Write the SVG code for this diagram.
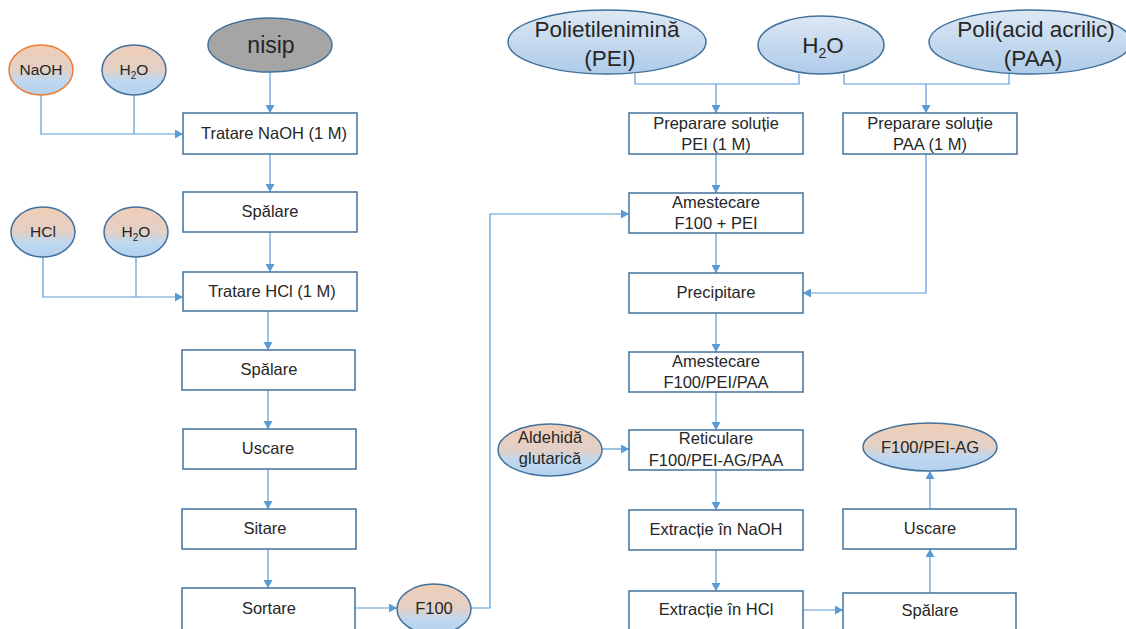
<svg xmlns="http://www.w3.org/2000/svg" width="1126" height="629" viewBox="0 0 1126 629">
<style>
text{font-family:"Liberation Sans",Arial,sans-serif;fill:#262626;text-anchor:middle}
.box{fill:#fff;stroke:#41719c;stroke-width:1.5}
.ew{fill:url(#warm);stroke:#41719c;stroke-width:1.5}
.eb{fill:url(#cool);stroke:#41719c;stroke-width:1.5}
.t{font-size:16.5px}
.s{font-size:15.5px}
.big{font-size:22.5px}
.c{fill:none;stroke:#5b9bd5;stroke-width:1.2}
.a{marker-end:url(#arr)}
</style>
<defs>
<linearGradient id="warm" x1="0" y1="0" x2="0" y2="1">
<stop offset="0" stop-color="#f0cdb6"/>
<stop offset="0.5" stop-color="#e2d0c6"/>
<stop offset="0.7" stop-color="#c0d8ef"/>
<stop offset="1" stop-color="#b3d1f0"/>
</linearGradient>
<linearGradient id="cool" x1="0" y1="0" x2="0" y2="1">
<stop offset="0" stop-color="#dde8f4"/>
<stop offset="1" stop-color="#aecbe9"/>
</linearGradient>
<marker id="arr" markerUnits="userSpaceOnUse" markerWidth="9" markerHeight="9" refX="8" refY="4.5" orient="auto">
<path d="M0,0 L8,4.5 L0,9 z" fill="#5b9bd5"/>
</marker>
</defs>

<g id="connectors">
<path class="c a" d="M270,72 V113"/>
<path class="c a" d="M41,95 V134 H183"/>
<path class="c" d="M134,95 V134"/>
<path class="c a" d="M270,154 V192"/>
<path class="c a" d="M270,232 V272"/>
<path class="c a" d="M43,257 V297 H183"/>
<path class="c" d="M136,257 V297"/>
<path class="c a" d="M268,311 V350"/>
<path class="c a" d="M268,390 V429"/>
<path class="c a" d="M268,469 V509"/>
<path class="c a" d="M268,549 V588"/>
<path class="c a" d="M355,608 H397"/>
<path class="c a" d="M471,608 H490 V214 H629"/>
<path class="c" d="M635,74 V84 H799 V74"/>
<path class="c a" d="M716,84 V113"/>
<path class="c" d="M844,74 V84 H1009 V67"/>
<path class="c a" d="M926,84 V113"/>
<path class="c a" d="M716,154 V193"/>
<path class="c a" d="M716,233 V273"/>
<path class="c a" d="M926,154 V293 H803"/>
<path class="c a" d="M716,313 V352"/>
<path class="c a" d="M716,392 V430"/>
<path class="c a" d="M602,449 H629"/>
<path class="c a" d="M716,470 V510"/>
<path class="c a" d="M716,550 V591"/>
<path class="c a" d="M803,610 H843"/>
<path class="c a" d="M930,593 V549"/>
<path class="c a" d="M930,509 V471"/>
</g>

<g id="nisip"><ellipse cx="270" cy="45" rx="62" ry="27" fill="#a5a5a5" stroke="#41719c" stroke-width="1.5"/><text x="271" y="53" style="font-size:23px">nisip</text></g>
<g id="naoh"><ellipse class="ew" cx="41" cy="70" rx="32" ry="25" style="stroke:#ed7d31"/><text class="s" x="41" y="75">NaOH</text></g>
<g id="h2o-1"><ellipse class="ew" cx="134" cy="70" rx="32" ry="25"/><text class="s" x="134" y="75">H<tspan font-size="10" dy="4">2</tspan><tspan dy="-4">O</tspan></text></g>
<g id="hcl"><ellipse class="ew" cx="43" cy="232" rx="32" ry="25"/><text class="s" x="43" y="237">HCl</text></g>
<g id="h2o-2"><ellipse class="ew" cx="136" cy="232" rx="32" ry="25"/><text class="s" x="136" y="237">H<tspan font-size="10" dy="4">2</tspan><tspan dy="-4">O</tspan></text></g>

<g id="tratare-naoh"><rect class="box" x="183" y="113" width="174" height="41"/><text class="t" x="274" y="139">Tratare NaOH (1 M)</text></g>
<g id="spalare-1"><rect class="box" x="183" y="192" width="174" height="40"/><text class="t" x="270" y="217">Spălare</text></g>
<g id="tratare-hcl"><rect class="box" x="183" y="272" width="174" height="39"/><text class="t" x="272" y="297">Tratare HCl (1 M)</text></g>
<g id="spalare-2"><rect class="box" x="182" y="350" width="173" height="40"/><text class="t" x="269" y="375">Spălare</text></g>
<g id="uscare-1"><rect class="box" x="183" y="429" width="173" height="40"/><text class="t" x="268" y="454">Uscare</text></g>
<g id="sitare"><rect class="box" x="182" y="509" width="174" height="40"/><text class="t" x="265" y="534">Sitare</text></g>
<g id="sortare"><rect class="box" x="182" y="588" width="173" height="42"/><text class="t" x="269" y="614">Sortare</text></g>
<g id="f100"><ellipse class="ew" cx="434" cy="609" rx="37" ry="25"/><text class="t" x="434" y="614">F100</text></g>

<g id="pei"><ellipse class="eb" cx="607" cy="42" rx="99" ry="32"/><text class="big" x="607" y="37">Polietilenimină</text><text class="big" x="610" y="66">(PEI)</text></g>
<g id="h2o-3"><ellipse class="eb" cx="821" cy="45" rx="63" ry="29"/><text class="big" x="823" y="53">H<tspan font-size="14" dy="5">2</tspan><tspan dy="-5">O</tspan></text></g>
<g id="paa"><ellipse class="eb" cx="1030" cy="42" rx="101" ry="32"/><text class="big" x="1036" y="37">Poli(acid acrilic)</text><text class="big" x="1033" y="66">(PAA)</text></g>

<g id="prep-pei"><rect class="box" x="629" y="113" width="174" height="41"/><text class="t" x="716" y="129">Preparare soluție</text><text class="t" x="716" y="150">PEI (1 M)</text></g>
<g id="prep-paa"><rect class="box" x="843" y="113" width="174" height="41"/><text class="t" x="930" y="129">Preparare soluție</text><text class="t" x="930" y="150">PAA (1 M)</text></g>
<g id="amestecare-1"><rect class="box" x="629" y="193" width="174" height="40"/><text class="t" x="716" y="208">Amestecare</text><text class="t" x="716" y="229">F100 + PEI</text></g>
<g id="precipitare"><rect class="box" x="629" y="273" width="174" height="40"/><text class="t" x="716" y="298">Precipitare</text></g>
<g id="amestecare-2"><rect class="box" x="629" y="352" width="174" height="40"/><text class="t" x="716" y="367">Amestecare</text><text class="t" x="716" y="388">F100/PEI/PAA</text></g>
<g id="aldehida"><ellipse class="ew" cx="550" cy="450" rx="52" ry="26"/><text class="t" x="550" y="443">Aldehidă</text><text class="t" x="550" y="464">glutarică</text></g>
<g id="reticulare"><rect class="box" x="629" y="430" width="174" height="40"/><text class="t" x="716" y="444">Reticulare</text><text class="t" x="716" y="466">F100/PEI-AG/PAA</text></g>
<g id="extractie-naoh"><rect class="box" x="629" y="510" width="174" height="40"/><text class="t" x="716" y="535">Extracție în NaOH</text></g>
<g id="extractie-hcl"><rect class="box" x="629" y="591" width="174" height="42"/><text class="t" x="716" y="615">Extracție în HCl</text></g>
<g id="spalare-3"><rect class="box" x="843" y="593" width="173" height="40"/><text class="t" x="930" y="616">Spălare</text></g>
<g id="uscare-2"><rect class="box" x="843" y="509" width="173" height="40"/><text class="t" x="930" y="534">Uscare</text></g>
<g id="f100-pei-ag"><ellipse class="ew" cx="930" cy="447" rx="67" ry="24"/><text class="t" x="930" y="453">F100/PEI-AG</text></g>
</svg>
